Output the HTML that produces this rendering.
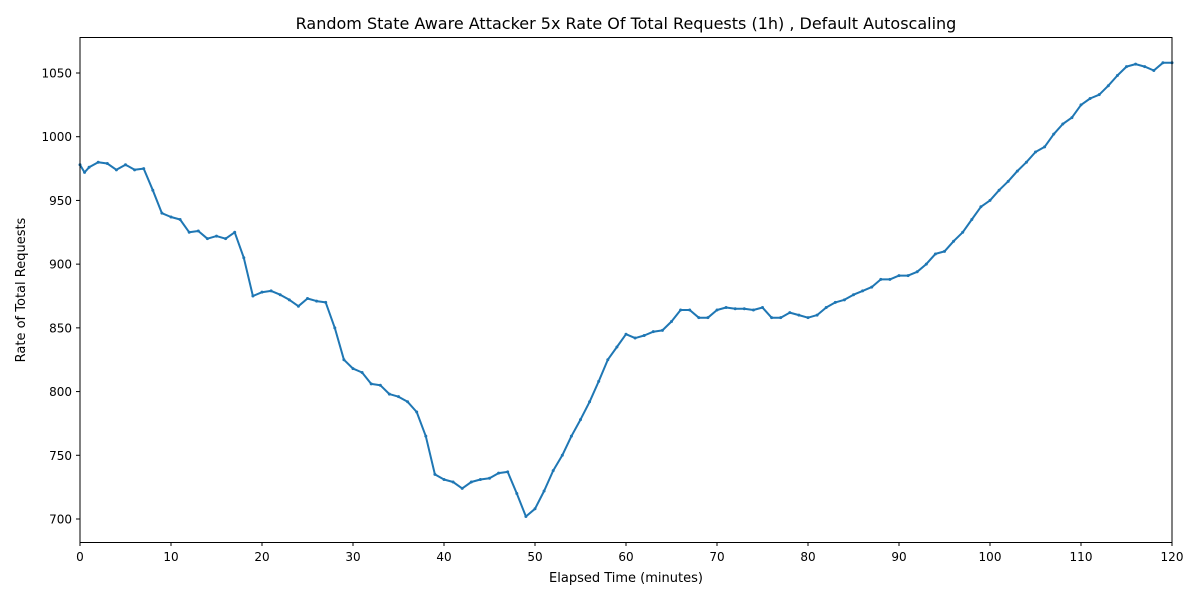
<!DOCTYPE html>
<html><head><meta charset="utf-8"><style>
body{margin:0;background:#fff;font-family:"Liberation Sans","DejaVu Sans",sans-serif}
svg text{font-family:"DejaVu Sans","Liberation Sans",sans-serif;fill:#000}
</style></head><body>
<svg id="chart" width="1200" height="600" xmlns="http://www.w3.org/2000/svg">
<rect width="1200" height="600" fill="#fff"/>
<text x="626" y="29" font-size="16" text-anchor="middle">Random State Aware Attacker 5x Rate Of Total Requests (1h) , Default Autoscaling</text>
<text x="626" y="582" font-size="13" text-anchor="middle">Elapsed Time (minutes)</text>
<text x="25" y="290" font-size="13" text-anchor="middle" transform="rotate(-90 25 290)">Rate of Total Requests</text>
<g id="xt"></g><g id="yt"></g>
<path id="line" fill="none" stroke="#1f77b4" stroke-width="2" stroke-linejoin="round"/>
<g id="pts"></g>
<rect x="80" y="37.5" width="1092" height="505" fill="none" stroke="#000" stroke-width="1"/>
</svg>
<script>
const xTicks=[0,10,20,30,40,50,60,70,80,90,100,110,120];
const yTicks=[700,750,800,850,900,950,1000,1050];
const times=[0,0.5,1,2,3,4,5,6,7,8,9,10,11,12,13,14,15,16,17,18,19,20,21,22,23,24,25,26,27,28,29,30,31,32,33,34,35,36,37,38,39,40,41,42,43,44,45,46,47,48,49,50,51,52,53,54,55,56,57,58,59,60,61,62,63,64,65,66,67,68,69,70,71,72,73,74,75,76,77,78,79,80,81,82,83,84,85,86,87,88,89,90,91,92,93,94,95,96,97,98,99,100,101,102,103,104,105,106,107,108,109,110,111,112,113,114,115,116,117,118,119,120];
const values=[978,972,976,980,979,974,978,974,975,958,940,937,935,925,926,920,922,920,925,905,875,878,879,876,872,867,873,871,870,850,825,818,815,806,805,798,796,792,784,765,735,731,729,724,729,731,732,736,737,720,702,708,722,738,750,765,778,792,808,825,835,845,842,844,847,848,855,864,864,858,858,864,866,865,865,864,866,858,858,862,860,858,860,866,870,872,876,879,882,888,888,891,891,894,900,908,910,918,925,935,945,950,958,965,973,980,988,992,1002,1010,1015,1025,1030,1033,1040,1048,1055,1057,1055,1052,1058,1058];
const X=t=>80+t*1092/120;
const Y=v=>519-(v-700)*(446/350);
const ns="http://www.w3.org/2000/svg";
const xt=document.getElementById('xt'),yt=document.getElementById('yt');
xTicks.forEach(t=>{
 const l=document.createElementNS(ns,'line');
 l.setAttribute('x1',X(t));l.setAttribute('x2',X(t));l.setAttribute('y1',542.5);l.setAttribute('y2',546);l.setAttribute('stroke','#000');
 
 
 xt.appendChild(l);
 const s=document.createElementNS(ns,'text');
 s.setAttribute('x',X(t));s.setAttribute('y',561);s.setAttribute('font-size','12');s.setAttribute('text-anchor','middle');s.textContent=t;
 
 
 xt.appendChild(s);
});
yTicks.forEach(v=>{
 const l=document.createElementNS(ns,'line');
 l.setAttribute('x1',76);l.setAttribute('x2',80);l.setAttribute('y1',Y(v));l.setAttribute('y2',Y(v));l.setAttribute('stroke','#000');
 
 
 yt.appendChild(l);
 const s=document.createElementNS(ns,'text');
 s.setAttribute('x',72);s.setAttribute('y',Y(v)+4.5);s.setAttribute('font-size','12');s.setAttribute('text-anchor','end');s.textContent=v;
 
 
 yt.appendChild(s);
});
document.getElementById('line').setAttribute('d',times.map((t,i)=>(i?'L':'M')+X(t).toFixed(1)+' '+Y(values[i]).toFixed(1)).join(' '));
const pts=document.getElementById('pts');
times.forEach((t,i)=>{
 const c=document.createElementNS(ns,'circle');
 c.setAttribute('cx',X(t));c.setAttribute('cy',Y(values[i]));c.setAttribute('r',1.5);c.setAttribute('fill','#1f77b4');
 
 
 pts.appendChild(c);
});
</script>
</body></html>
